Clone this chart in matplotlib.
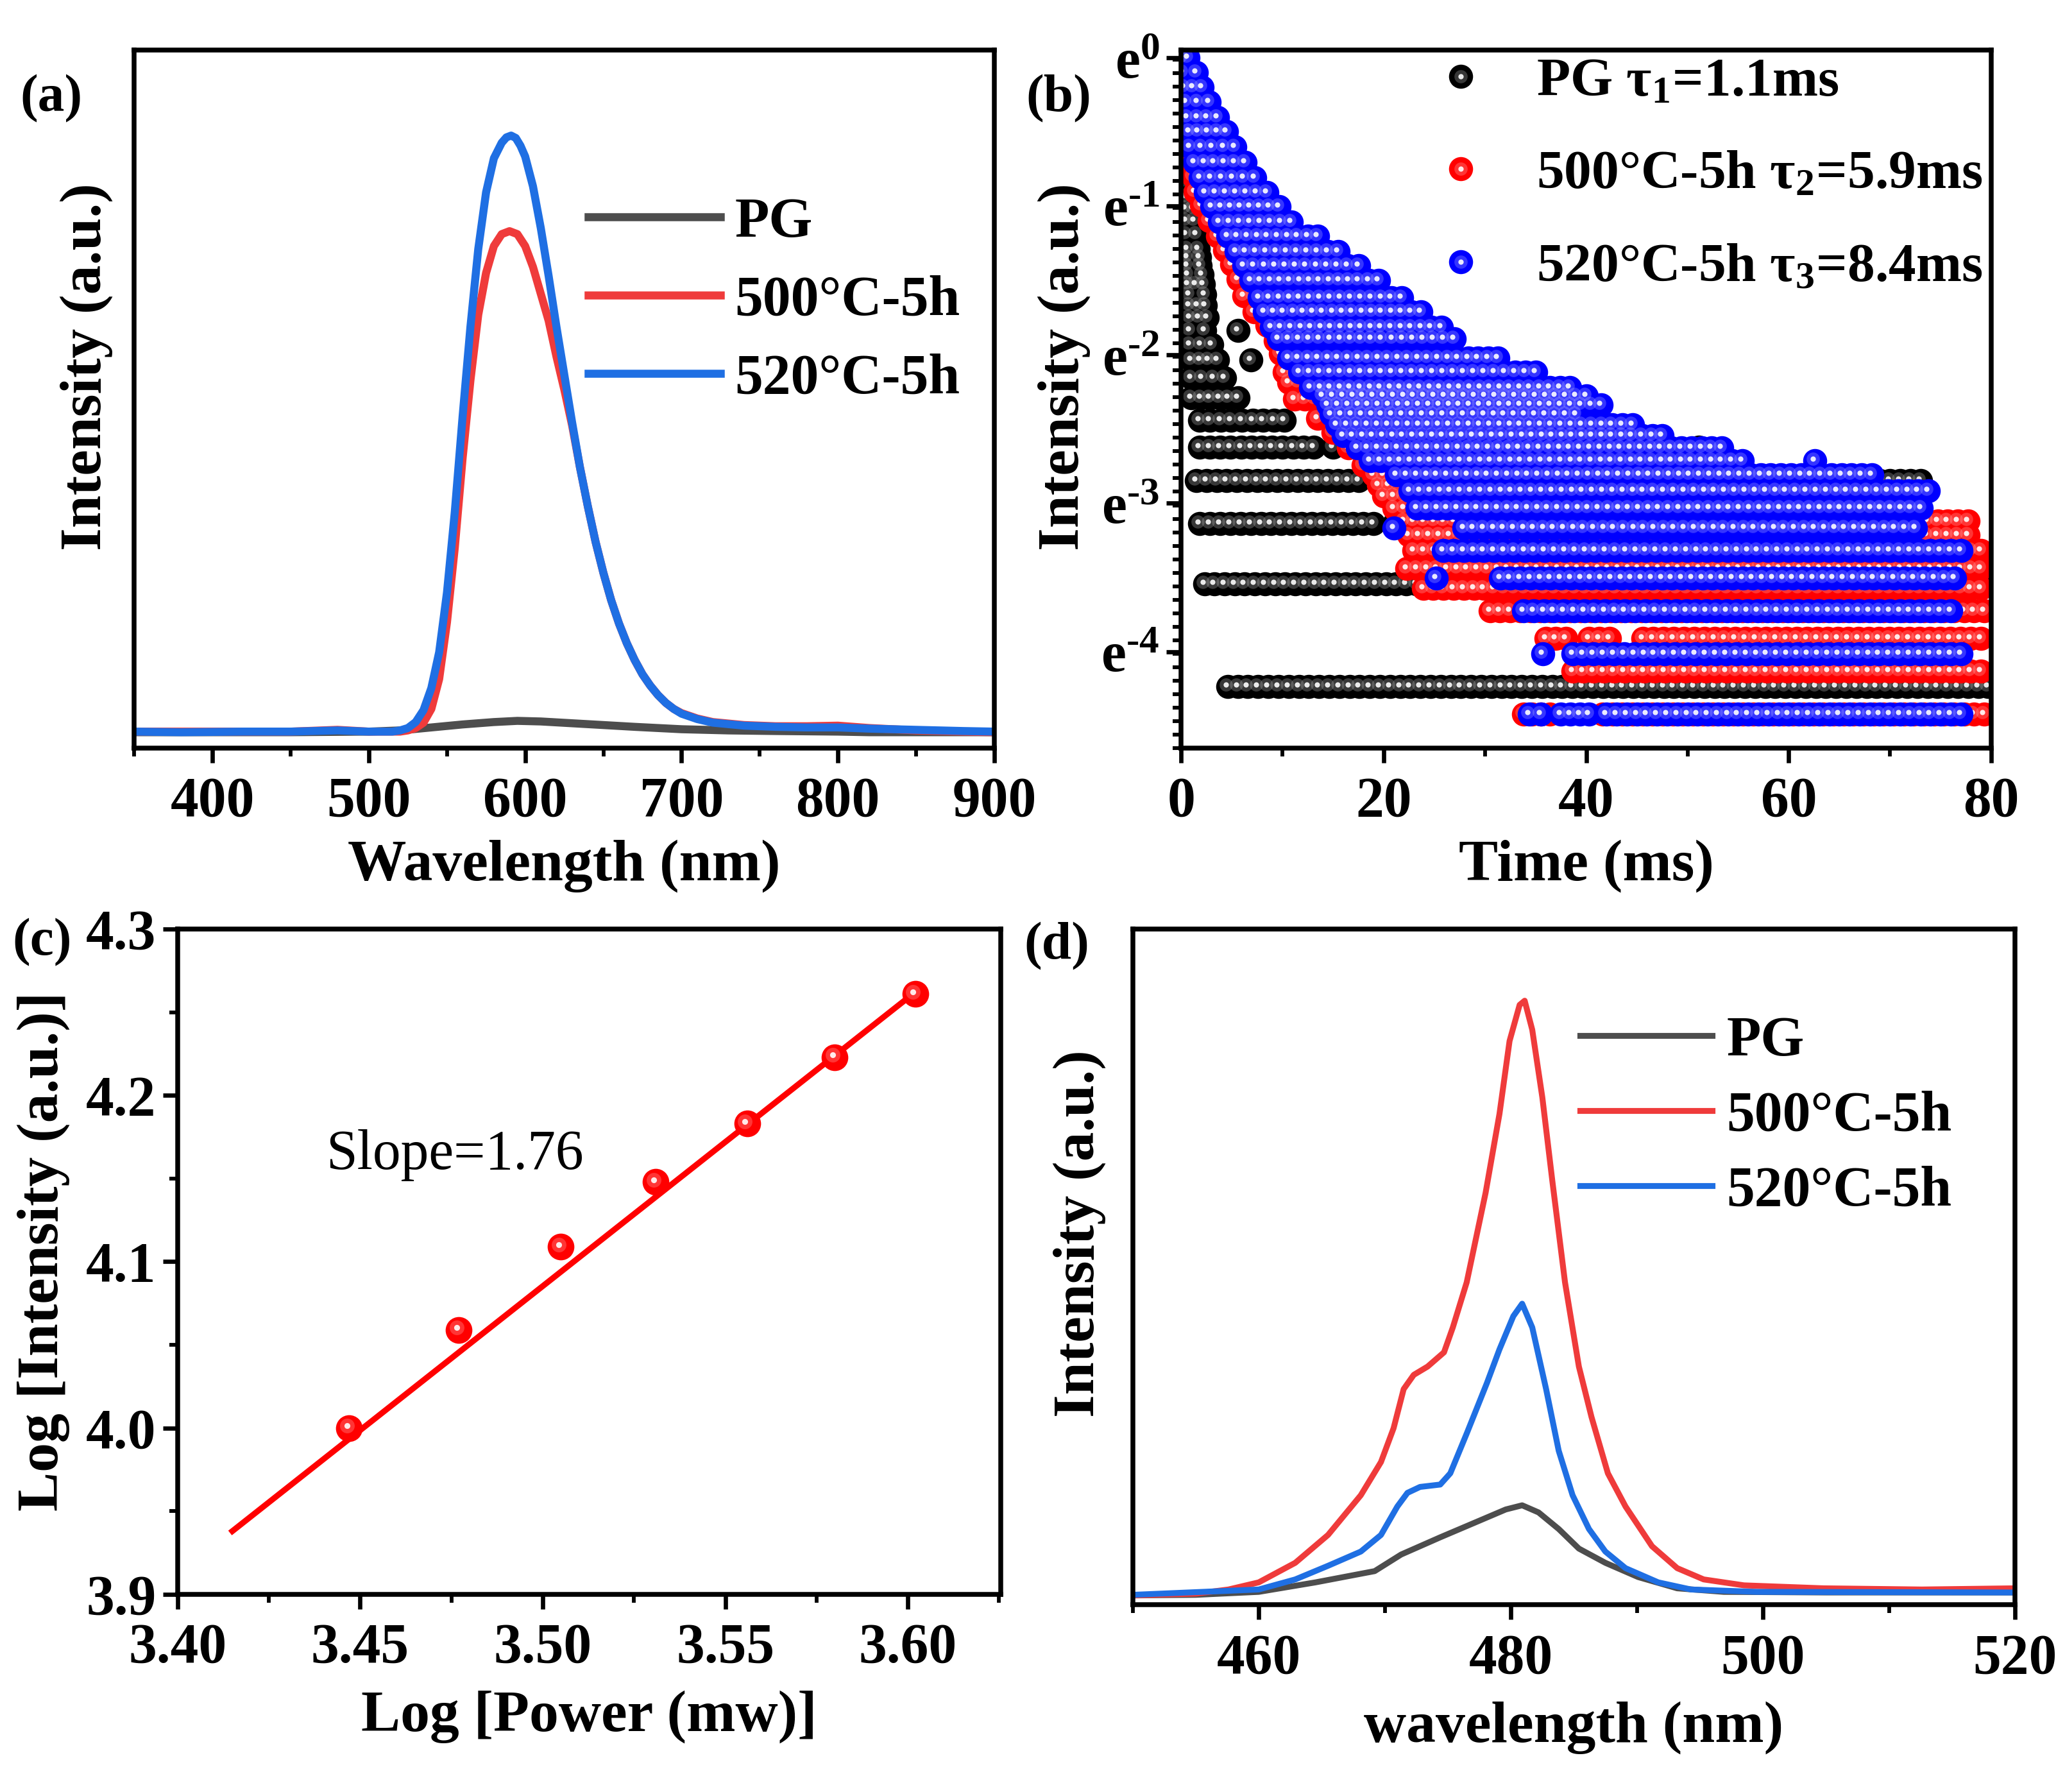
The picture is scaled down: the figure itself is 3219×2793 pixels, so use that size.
import numpy as np
import matplotlib
matplotlib.use("Agg")
import matplotlib.pyplot as plt
import matplotlib.transforms as mtransforms
from matplotlib.lines import Line2D
from matplotlib.ticker import FixedLocator, MultipleLocator, NullFormatter, FixedFormatter, FormatStrFormatter

plt.rcParams['font.family'] = ['Liberation Serif', 'DejaVu Serif']
plt.rcParams['font.weight'] = 'bold'
plt.rcParams['axes.labelweight'] = 'bold'
plt.rcParams['mathtext.fontset'] = 'custom'
plt.rcParams['mathtext.rm'] = 'Liberation Serif:bold'
plt.rcParams['mathtext.it'] = 'Liberation Serif:italic:bold'
plt.rcParams['mathtext.bf'] = 'Liberation Serif:bold'
plt.rcParams['mathtext.default'] = 'rm'

# ---------------- (a) emission spectra, 350-900 nm ----------------
a_pg_wl = [350, 400, 450, 500, 520, 540, 560, 580, 595, 610, 630, 650, 670, 700, 730, 760, 800, 820, 850, 900]
a_pg_int = [0.001, 0.001, 0.001, 0.002, 0.004, 0.009, 0.014, 0.018, 0.020, 0.019, 0.016, 0.013, 0.010,
            0.006, 0.004, 0.003, 0.002, 0.001, 0.001, 0.001]

a_500_wl = [350, 400, 450, 480, 500, 520, 525, 530, 535, 540, 545, 550, 555, 560, 565, 570, 575, 580, 585,
            590, 595, 600, 605, 610, 615, 620, 625, 630, 635, 640, 645, 650, 655, 660, 665, 670, 675, 680,
            685, 690, 695, 700, 710, 720, 740, 760, 780, 800, 820, 850, 880, 900]
a_500_int = [0.002, 0.002, 0.002, 0.005, 0.002, 0.002, 0.004, 0.008, 0.017, 0.040, 0.090, 0.185, 0.310,
             0.460, 0.590, 0.700, 0.770, 0.815, 0.835, 0.840, 0.835, 0.815, 0.780, 0.735, 0.690, 0.630,
             0.575, 0.515, 0.445, 0.380, 0.320, 0.268, 0.222, 0.183, 0.150, 0.122, 0.098, 0.079, 0.063,
             0.050, 0.040, 0.033, 0.024, 0.018, 0.013, 0.011, 0.011, 0.012, 0.008, 0.004, 0.002, 0.001]

a_520_wl = [350, 380, 420, 450, 480, 500, 515, 520, 525, 530, 535, 540, 545, 550, 555, 560, 565, 570, 575,
            580, 585, 588, 591, 594, 597, 600, 605, 610, 615, 620, 625, 630, 635, 640, 645, 650, 655, 660,
            665, 670, 675, 680, 685, 690, 695, 700, 710, 720, 740, 760, 780, 800, 820, 850, 880, 900]
a_520_int = [0.002, 0.001, 0.002, 0.002, 0.004, 0.002, 0.002, 0.004, 0.008, 0.018, 0.038, 0.075, 0.135,
             0.235, 0.370, 0.530, 0.680, 0.810, 0.905, 0.962, 0.988, 0.997, 1.000, 0.996, 0.983, 0.965,
             0.915, 0.845, 0.765, 0.680, 0.600, 0.520, 0.445, 0.380, 0.320, 0.268, 0.222, 0.183, 0.150,
             0.122, 0.098, 0.079, 0.063, 0.050, 0.040, 0.032, 0.023, 0.017, 0.012, 0.010, 0.009, 0.009,
             0.007, 0.005, 0.003, 0.002]

# ---------------- (b) decay curves: photon-count rows (count, t_start, t_end) ----------------
pg_peak = 69
pg_rows = [(40, 0.3, 0.5), (36, 0.3, 0.8), (33, 0.3, 0.9), (30, 0.3, 1.0), (27, 0.4, 1.1), (25, 0.4, 1.2),
           (23, 0.5, 1.3), (21, 0.5, 1.5), (19, 0.6, 1.7), (18, 0.6, 1.8), (17, 0.6, 1.9), (16, 0.7, 2.1),
           (15, 0.7, 2.2), (14, 0.8, 2.3), (13, 0.8, 2.4), (12, 0.9, 2.6), (11, 0.9, 2.3), (11, 5.6, 5.6),
           (10, 0.9, 3.0), (9, 1.0, 3.6), (9, 6.9, 6.9), (8, 1.0, 4.3), (7, 1.0, 5.6), (6, 1.8, 10.2),
           (5, 1.8, 13.1), (5, 15.0, 15.0), (5, 51.1, 51.1), (4, 1.5, 17.5), (4, 66.0, 73.0),
           (3, 1.8, 19.0), (3, 21.0, 77.0), (2, 2.3, 79.0), (1, 4.6, 79.7)]

r500_peak = 249
r500_rows = [(249, 0.1, 0.5), (225, 0.15, 1.0), (204, 0.2, 1.5), (184, 0.3, 2.0), (167, 0.4, 2.6),
             (151, 0.6, 3.2), (137, 0.8, 3.9), (124, 1.0, 4.6), (112, 1.2, 5.4), (101, 1.4, 6.2),
             (92, 2.0, 7.0), (83, 2.8, 7.8), (75, 3.6, 8.7), (68, 4.3, 9.6), (62, 5.0, 10.6),
             (56, 5.6, 11.6), (50, 6.2, 12.8), (45, 7.2, 14.0), (41, 8.5, 15.3), (37, 9.3, 16.6),
             (34, 9.8, 18.0), (30, 10.2, 20.0), (28, 10.6, 21.5), (25, 11.2, 23.5), (22, 13.5, 26.0),
             (20, 15.0, 30.0), (18, 16.5, 42.0), (16, 18.0, 50.0), (15, 19.0, 48.9), (14, 19.5, 57.0),
             (14, 61.3, 61.3), (13, 20.0, 57.0), (12, 21.0, 57.4), (11, 22.0, 77.7), (10, 22.5, 77.7),
             (9, 23.0, 79.0), (8, 22.3, 79.0), (7, 23.9, 79.0), (6, 30.5, 79.3), (5, 36.0, 38.0),
             (5, 40.3, 42.3), (5, 45.6, 79.0), (4, 38.7, 79.0), (3, 33.8, 36.4), (3, 41.6, 79.3)]

r520_peak = 166
r520_rows = [(166, 0.1, 0.7), (150, 0.2, 1.5), (136, 0.3, 2.1), (123, 0.5, 2.8), (111, 0.6, 3.6),
             (101, 0.8, 4.5), (91, 0.9, 5.3), (82, 1.3, 6.3), (74, 1.9, 7.3), (67, 2.4, 8.5),
             (61, 3.0, 9.7), (55, 3.8, 10.9), (50, 4.6, 13.5), (45, 5.4, 15.5), (41, 6.2, 17.5),
             (37, 6.9, 19.5), (33, 7.7, 21.8), (30, 8.2, 23.7), (27, 8.9, 25.7), (25, 9.6, 27.0),
             (22, 10.6, 31.3), (20, 11.7, 35.0), (18, 12.8, 38.4), (17, 14.0, 40.0), (16, 14.5, 41.5),
             (15, 14.8, 39.0), (14, 15.4, 44.6), (13, 16.0, 47.5), (12, 17.4, 53.4), (11, 18.7, 55.4),
             (11, 62.6, 62.6), (10, 21.3, 68.2), (9, 22.6, 73.8), (8, 23.3, 73.1), (7, 21.0, 21.0),
             (7, 27.9, 72.5), (6, 25.9, 77.0), (5, 25.2, 25.2), (5, 31.5, 76.4), (4, 33.8, 76.0),
             (3, 35.7, 35.7), (3, 38.7, 77.0), (2, 34.4, 35.5), (2, 37.5, 40.3), (2, 42.0, 77.0)]

b_legend = ['PG τ$_1$=1.1ms', '500°C-5h τ$_2$=5.9ms', '520°C-5h τ$_3$=8.4ms']
b_ytick_exp = [0, -1, -2, -3, -4]
b_ytick_labels = ['e$^{0}$', 'e$^{\u20101}$', 'e$^{\u20102}$', 'e$^{\u20103}$', 'e$^{\u20104}$']

# ---------------- (c) power dependence ----------------
c_log_power = [3.447, 3.477, 3.505, 3.531, 3.556, 3.580, 3.602]
c_log_int = [4.000, 4.059, 4.109, 4.148, 4.183, 4.223, 4.261]
c_fit_x = [3.415, 3.602]
c_fit_y = [3.938, 4.262]

# ---------------- (d) emission spectra, 450-520 nm ----------------
d_pg_wl = [450, 455, 460, 464.5, 469.2, 471.3, 474.4, 477.5, 479.6, 480.9, 482.2, 483.8, 485.4, 487.5,
           490.1, 493.2, 496.9, 505, 520]
d_pg_int = [-0.003, -0.002, 0.003, 0.019, 0.038, 0.066, 0.095, 0.123, 0.142, 0.149, 0.137, 0.109, 0.076,
            0.052, 0.028, 0.009, 0.003, 0.002, 0.002]

d_500_wl = [450, 455, 457.6, 460, 462.9, 465.5, 468.1, 469.7, 470.7, 471.5, 472.3, 473.4, 474.7, 475.4,
            476.5, 478.0, 479.1, 479.9, 480.7, 481.1, 481.7, 482.5, 483.3, 484.3, 485.4, 486.4, 487.7,
            489.1, 491.2, 493.2, 495.3, 498.5, 504.8, 512.6, 520]
d_500_int = [-0.003, 0.0, 0.007, 0.019, 0.052, 0.099, 0.166, 0.222, 0.279, 0.345, 0.369, 0.383, 0.407,
             0.449, 0.525, 0.676, 0.809, 0.932, 0.993, 1.000, 0.951, 0.837, 0.695, 0.525, 0.383, 0.298,
             0.203, 0.147, 0.080, 0.043, 0.024, 0.014, 0.009, 0.007, 0.009]

d_520_wl = [450, 460, 462.9, 465.5, 468.1, 469.7, 471.0, 471.8, 472.8, 474.4, 475.2, 476.5, 478.1, 479.1,
            480.2, 480.9, 481.7, 482.8, 483.8, 484.9, 486.2, 487.5, 489.1, 491.7, 494.3, 499.5, 520]
d_520_int = [-0.002, 0.007, 0.024, 0.047, 0.071, 0.099, 0.147, 0.170, 0.180, 0.184, 0.203, 0.270, 0.355,
             0.412, 0.468, 0.489, 0.449, 0.345, 0.241, 0.166, 0.109, 0.071, 0.043, 0.019, 0.007, 0.003,
             0.002]

line_labels = ['PG', '500°C-5h', '520°C-5h']
line_colors = ['#4d4d4d', '#ef3b3b', '#1f6fe3']

TICK_FS = 21
LABEL_FS = 22
LEG_FS = 21


def style_axes(ax):
    for s in ax.spines.values():
        s.set_linewidth(1.8)
    ax.tick_params(which='major', direction='out', length=5.5, width=1.6, labelsize=TICK_FS, pad=5)
    ax.tick_params(which='minor', direction='out', length=3.2, width=1.4)
    ax.tick_params(axis='y', pad=2.5)


def expand(rows, peak, step=1.0):
    ts, ys = [], []
    for cnt, t0, t1 in rows:
        n = max(1, int(round((t1 - t0) / step)) + 1)
        t = np.linspace(t0, t1, n)
        ts.extend(t)
        ys.extend([cnt / peak] * n)
    return np.array(ts), np.array(ys)


def spheres(ax, x, y, color, size, core='white'):
    # ball look: base disc, soft lighter core, small white highlight up-left
    fig = ax.figure
    off = mtransforms.offset_copy(ax.transData, fig=fig, x=-size * 0.08, y=size * 0.08, units='points')
    ax.plot(x, y, 'o', ms=size, mfc=color, mec='none', ls='none')
    ax.plot(x, y, 'o', ms=size * 0.55, mfc=core, mec='none', ls='none', alpha=0.3, transform=off)
    ax.plot(x, y, 'o', ms=size * 0.22, mfc='white', mec='none', ls='none', alpha=0.9, transform=off)


fig = plt.figure(figsize=(3219 / 300, 2793 / 300), dpi=300)

# ---- (a) ----
ax_a = fig.add_axes([0.065, 0.5824, 0.4165, 0.3896])
ax_a.plot(a_pg_wl, a_pg_int, color=line_colors[0], lw=3, label=line_labels[0])
ax_a.plot(a_500_wl, a_500_int, color=line_colors[1], lw=3, label=line_labels[1])
ax_a.plot(a_520_wl, a_520_int, color=line_colors[2], lw=3, label=line_labels[2])
ax_a.set_xlim(350, 900)
ax_a.set_ylim(-0.026, 1.143)
ax_a.xaxis.set_major_locator(MultipleLocator(100))
ax_a.xaxis.set_minor_locator(MultipleLocator(50))
ax_a.set_yticks([])
style_axes(ax_a)
ax_a.set_xlabel('Wavelength (nm)', fontsize=LABEL_FS, labelpad=4)
ax_a.set_ylabel('Intensity (a.u.)', fontsize=LABEL_FS, labelpad=8)
ax_a.yaxis.label.set_y(0.547)
ax_a.legend(loc='upper left', bbox_to_anchor=(0.528, 0.79), frameon=False, fontsize=LEG_FS,
            handlelength=2.35, handletextpad=0.26, labelspacing=0.47, borderpad=0, borderaxespad=0)

# ---- (b) ----
ax_b = fig.add_axes([0.572, 0.5824, 0.3923, 0.3896])
ms_b = 9
b_styles = [('black', '#bbbbbb'), ('#ff0000', '#ffb0b0'), ('#0000ff', '#b0b0ff')]
for (rows, peak), (col, core) in zip([(pg_rows, pg_peak), (r500_rows, r500_peak), (r520_rows, r520_peak)],
                                     b_styles):
    tt, yy = expand(rows, peak)
    spheres(ax_b, tt, yy, col, ms_b, core)
ax_b.set_yscale('log', base=np.e)
ax_b.set_xlim(0, 80)
ax_b.set_ylim(np.exp(-4.65), np.exp(0.05))
ax_b.xaxis.set_major_locator(MultipleLocator(20))
ax_b.xaxis.set_minor_locator(MultipleLocator(10))
ax_b.yaxis.set_major_locator(FixedLocator(np.exp(b_ytick_exp)))
ax_b.yaxis.set_major_formatter(FixedFormatter(b_ytick_labels))
ax_b.yaxis.set_minor_locator(FixedLocator(np.exp(np.arange(-4.65, 0.05, 1 / 11))))
ax_b.yaxis.set_minor_formatter(NullFormatter())
style_axes(ax_b)
ax_b.set_xlabel('Time (ms)', fontsize=LABEL_FS, labelpad=4)
ax_b.set_ylabel('Intensity (a.u.)', fontsize=LABEL_FS, labelpad=4)
ax_b.yaxis.label.set_y(0.547)

b_handles = []
for col, core in b_styles:
    h1 = Line2D([], [], marker='o', ms=ms_b, mfc=col, mec='none', ls='none')
    h2 = Line2D([], [], marker='o', ms=ms_b * 0.55, mfc=core, mec='none', ls='none', alpha=0.3)
    h3 = Line2D([], [], marker='o', ms=ms_b * 0.22, mfc='white', mec='none', ls='none', alpha=0.9)
    b_handles.append((h1, h2, h3))
ax_b.legend(b_handles, b_legend, loc='upper left', bbox_to_anchor=(0.311, 0.99), frameon=False,
            fontsize=20.5, handlelength=1.0, handletextpad=0.88, labelspacing=0.78,
            borderpad=0, borderaxespad=0)

# ---- (c) ----
ax_c = fig.add_axes([0.086, 0.1103, 0.3987, 0.3713])
ax_c.plot(c_fit_x, c_fit_y, color='#ff0000', lw=2.2)
spheres(ax_c, c_log_power, c_log_int, '#ff0000', 10, '#ffb0b0')
ax_c.set_xlim(3.40, 3.6255)
ax_c.set_ylim(3.9, 4.3)
ax_c.xaxis.set_major_locator(MultipleLocator(0.05))
ax_c.xaxis.set_minor_locator(MultipleLocator(0.025))
ax_c.yaxis.set_major_locator(MultipleLocator(0.1))
ax_c.yaxis.set_minor_locator(MultipleLocator(0.05))
ax_c.xaxis.set_major_formatter(FormatStrFormatter('%.2f'))
ax_c.yaxis.set_major_formatter(FormatStrFormatter('%.1f'))
style_axes(ax_c)
ax_c.text(3.476, 4.164, 'Slope=1.76', fontsize=21, fontweight='normal', ha='center', va='center')
ax_c.set_xlabel('Log [Power (mw)]', fontsize=LABEL_FS, labelpad=6)
ax_c.set_ylabel('Log [Intensity (a.u.)]', fontsize=LABEL_FS, labelpad=6)
ax_c.yaxis.label.set_y(0.515)

# ---- (d) ----
ax_d = fig.add_axes([0.5485, 0.1044, 0.4273, 0.3772])
ax_d.plot(d_pg_wl, d_pg_int, color=line_colors[0], lw=2.2, label=line_labels[0])
ax_d.plot(d_500_wl, d_500_int, color=line_colors[1], lw=2.2, label=line_labels[1])
ax_d.plot(d_520_wl, d_520_int, color=line_colors[2], lw=2.2, label=line_labels[2])
ax_d.set_xlim(450, 520)
ax_d.set_ylim(-0.019, 1.121)
ax_d.set_xticks([460, 480, 500, 520])
ax_d.xaxis.set_minor_locator(MultipleLocator(10))
ax_d.set_yticks([])
style_axes(ax_d)
ax_d.set_xlabel('wavelength (nm)', fontsize=LABEL_FS, labelpad=6)
ax_d.set_ylabel('Intensity (a.u.)', fontsize=LABEL_FS, labelpad=10)
ax_d.yaxis.label.set_y(0.549)
ax_d.legend(loc='upper left', bbox_to_anchor=(0.507, 0.872), frameon=False, fontsize=LEG_FS,
            handlelength=2.35, handletextpad=0.26, labelspacing=0.41, borderpad=0, borderaxespad=0)

# panel letters
for lbl, x, y in [('(a)', 0.0096, 0.945), ('(b)', 0.497, 0.945), ('(c)', 0.006, 0.474), ('(d)', 0.496, 0.472)]:
    fig.text(x, y, lbl, fontsize=20, fontweight='bold', ha='left', va='center')

fig.savefig('out.png', dpi=300)
